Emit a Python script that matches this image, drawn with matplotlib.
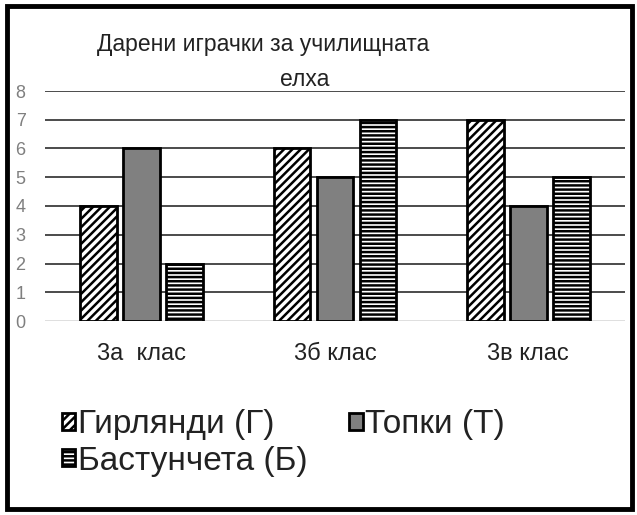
import matplotlib

matplotlib.use("Agg")
import matplotlib.pyplot as plt
import numpy as np
from matplotlib.patches import Rectangle

plt.rcParams["font.family"] = ["Liberation Sans", "DejaVu Sans"]
plt.rcParams["hatch.linewidth"] = 1.8

# data
classes = ["3а  клас", "3б клас", "3в клас"]
series = ["Гирлянди (Г)", "Топки (Т)", "Бастунчета (Б)"]
garlands = [4, 6, 7]
balls = [6, 5, 4]
canes = [2, 7, 5]
yticks = [0, 1, 2, 3, 4, 5, 6, 7, 8]

W, H = 637, 515
fig = plt.figure(figsize=(W / 100, H / 100), dpi=100)
ax = fig.add_axes([45 / W, 1 - 321 / H, 580 / W, 230 / H])

x = np.arange(len(classes))
bw = 0.19
off = 0.223
styles = [
    dict(facecolor="white", hatch="////"),
    dict(facecolor="#808080", hatch=None),
    dict(facecolor="white", hatch="----"),
]
handles = []
for i, (vals, st) in enumerate(zip([garlands, balls, canes], styles)):
    bars = ax.bar(x + (i - 1) * off, vals, bw, edgecolor="black",
                  linewidth=2.0, zorder=3, label=series[i], **st)
    handles.append(bars)

ax.set_xlim(-0.5, 2.5)
ax.set_ylim(0, 8)
for v in yticks[1:]:
    ax.axhline(v, color="#1a1a1a", lw=1.1, zorder=1)
ax.axhline(0, color="#d9d9d9", lw=1.2, zorder=1)
for s in ax.spines.values():
    s.set_visible(False)
ax.set_yticks(yticks)
ax.set_yticklabels([str(v) for v in yticks], color="#7f7f7f", fontsize=13)
ax.tick_params(axis="y", length=0, pad=14)
ax.set_xticks(x)
ax.set_xticklabels(classes, fontsize=17, color="#222222")
ax.tick_params(axis="x", length=0, pad=16)

fig.text(263 / W, 1 - 45 / H, "Дарени играчки за училищната", fontsize=16.5,
         ha="center", va="center", color="#222222")
fig.text(305 / W, 1 - 80 / H, "елха", fontsize=16.5,
         ha="center", va="center", color="#222222")

# legend: column-major fill, so order G, B | T
leg = fig.legend([handles[0], handles[2], handles[1]],
                 [series[0], series[2], series[1]],
                 ncol=2, loc="upper left", bbox_to_anchor=(62 / W, 1 - 409 / H),
                 frameon=False, fontsize=24, handlelength=0.4, handleheight=0.4,
                 handletextpad=0.08, columnspacing=1.25, labelspacing=0.17,
                 borderpad=0, borderaxespad=0)
for t in leg.get_texts():
    t.set_color("#222222")

fig.patches.append(Rectangle((7 / W, 6 / H), 625 / W, 503 / H,
                             transform=fig.transFigure, fill=False,
                             edgecolor="black", linewidth=3.5))

fig.savefig("out.png", dpi=100)
